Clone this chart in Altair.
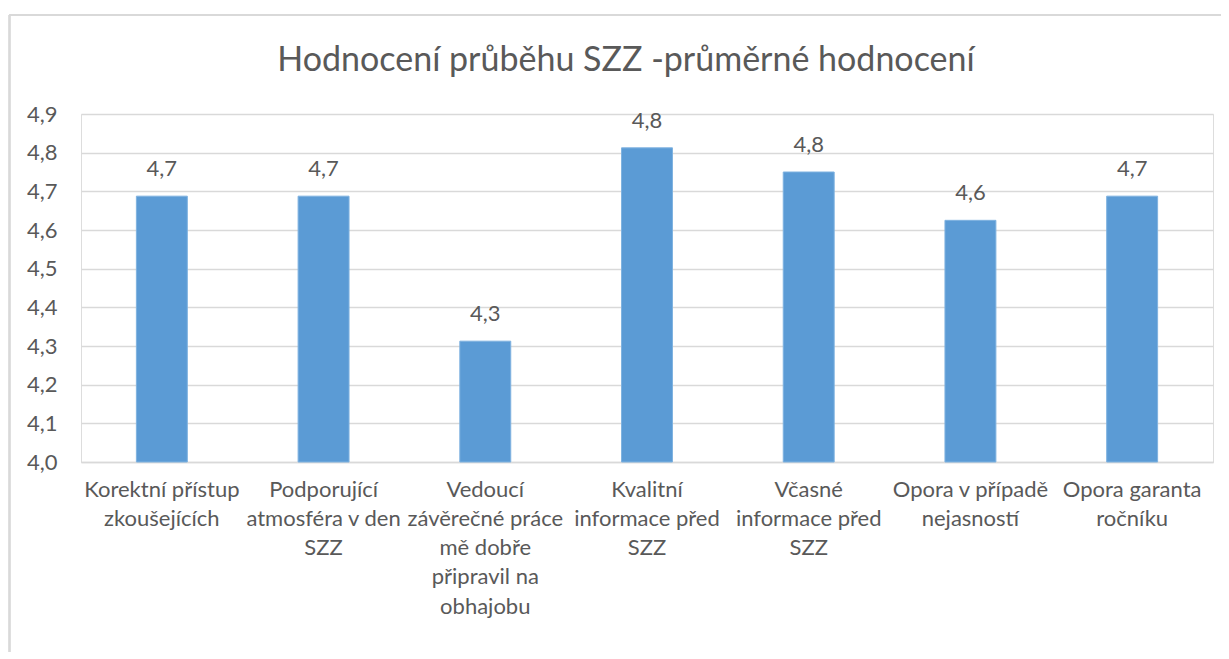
import altair as alt
import pandas as pd

categories = [
    "Korektní přístup\nzkoušejících",
    "Podporující\natmosféra v den\nSZZ",
    "Vedoucí\nzávěrečné práce\nmě dobře\npřipravil na\nobhajobu",
    "Kvalitní\ninformace před\nSZZ",
    "Včasné\ninformace před\nSZZ",
    "Opora v případě\nnejasností",
    "Opora garanta\nročníku",
]
values = [4.6875, 4.6875, 4.3125, 4.8125, 4.75, 4.625, 4.6875]
y_ticks = [4.0, 4.1, 4.2, 4.3, 4.4, 4.5, 4.6, 4.7, 4.8, 4.9]
title_text = "Hodnocení průběhu SZZ -průměrné hodnocení"

df = pd.DataFrame({"kategorie": categories, "hodnota": values})

FONT = "Lato"
TXT = "#595959"
GRID = "#D9D9D9"
FS = 22

x_enc = alt.X(
    "kategorie:N",
    sort=None,
    scale=alt.Scale(paddingInner=0.685, paddingOuter=0.3425),
    axis=alt.Axis(
        title=None,
        labelAngle=0,
        labelExpr="split(datum.label, '\\n')",
        labelFont=FONT,
        labelFontSize=FS,
        labelColor=TXT,
        labelLineHeight=29.3,
        labelPadding=17,
        labelLimit=0,
        labelOverlap=False,
        ticks=False,
        domain=True,
        domainColor=GRID,
        domainWidth=1.5,
        grid=False,
    ),
)
y_enc = alt.Y(
    "hodnota:Q",
    scale=alt.Scale(domain=[4.0, 4.9], zero=False, nice=False),
    axis=alt.Axis(
        title=None,
        values=y_ticks,
        labelExpr="replace(format(datum.value, '.1f'), '.', ',')",
        labelFont=FONT,
        labelFontSize=FS,
        labelColor=TXT,
        labelPadding=24,
        labelOverlap=False,
        labelBound=False,
        ticks=False,
        domain=False,
        grid=True,
        gridColor=GRID,
        gridWidth=1.5,
    ),
)

base = alt.Chart(df)

bars = base.mark_bar(color="#5B9BD5", stroke="#7FB2E0", strokeWidth=1).encode(
    x=x_enc, y=y_enc, y2=alt.datum(4.0)
)

labels = base.transform_calculate(
    txt="replace(format(datum.hodnota, '.1f'), '.', ',')"
).mark_text(
    font=FONT, fontSize=FS, color=TXT, baseline="bottom", dy=-15
).encode(x=x_enc, y=y_enc, text="txt:N")

title = alt.Chart(pd.DataFrame({"t": [title_text]})).mark_text(
    font=FONT, fontSize=34, color=TXT, align="center", baseline="alphabetic"
).encode(x=alt.value(545), y=alt.value(-43), text="t:N")

border_top = base.mark_rule(color=GRID, strokeWidth=1.5).encode(
    x=alt.value(-71.5), x2=alt.value(1160), y=alt.value(-99)
)
border_left = base.mark_rule(color=GRID, strokeWidth=1.5).encode(
    x=alt.value(-71.5), y=alt.value(-99), y2=alt.value(560)
)

chart = (
    alt.layer(bars, labels, title, border_top, border_left)
    .properties(
        width=1132,
        height=348,
        autosize=alt.AutoSizeParams(type="none"),
        padding={"left": 73, "top": 106, "right": 8, "bottom": 190},
    )
    .configure_view(stroke=None)
    .configure(background="white")
)

chart.save("out.html", embed_options={"renderer": "svg", "actions": False})
